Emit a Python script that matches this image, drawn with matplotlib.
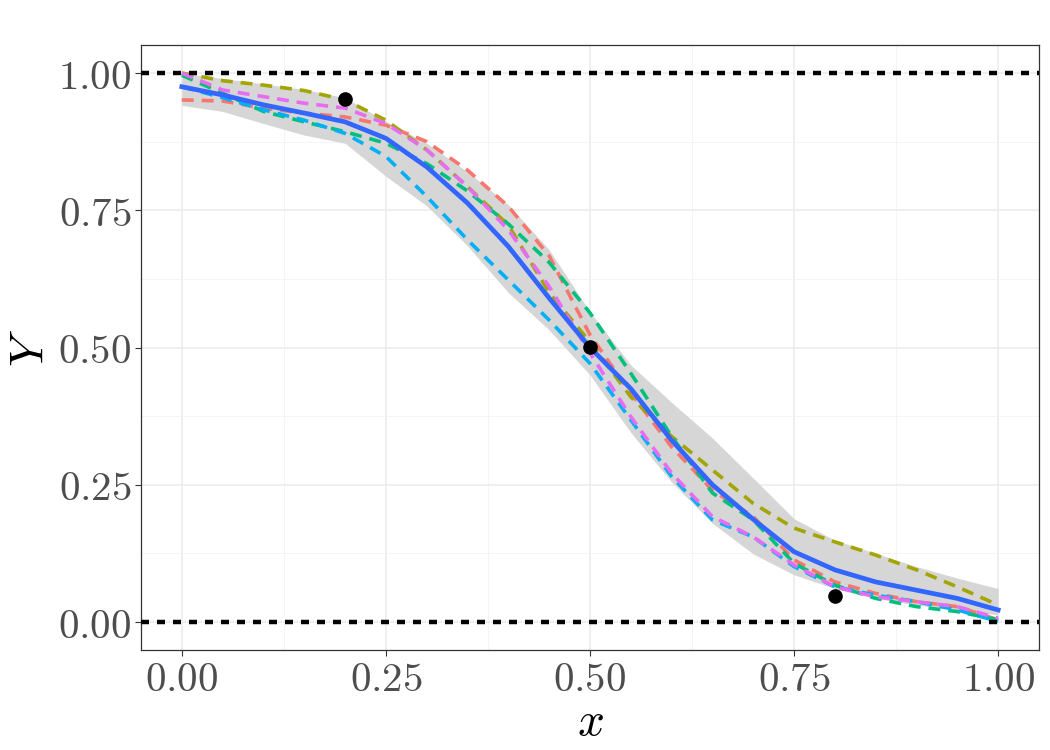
import numpy as np
import matplotlib
matplotlib.use("Agg")
import matplotlib.pyplot as plt

plt.rcParams['mathtext.fontset'] = 'cm'
plt.rcParams['font.family'] = ['DejaVu Sans']

# x grid the curves were read at
x = [0.00, 0.05, 0.10, 0.15, 0.20, 0.25, 0.30, 0.35, 0.40, 0.45, 0.50,
     0.55, 0.60, 0.65, 0.70, 0.75, 0.80, 0.85, 0.90, 0.95, 1.00]

mean_curve = [0.975, 0.960, 0.942, 0.927, 0.911, 0.881, 0.829, 0.763, 0.684, 0.590, 0.500,
              0.425, 0.331, 0.250, 0.187, 0.128, 0.095, 0.073, 0.058, 0.043, 0.022]
band_upper = [1.000, 0.990, 0.980, 0.970, 0.955, 0.912, 0.872, 0.820, 0.760, 0.678, 0.565,
              0.468, 0.400, 0.335, 0.262, 0.188, 0.149, 0.125, 0.101, 0.080, 0.061]
band_lower = [0.941, 0.930, 0.908, 0.887, 0.872, 0.812, 0.758, 0.685, 0.600, 0.532, 0.450,
              0.345, 0.255, 0.180, 0.124, 0.086, 0.061, 0.043, 0.031, 0.022, 0.013]

samples = {
    '#F8766D': [0.951, 0.949, 0.936, 0.927, 0.920, 0.905, 0.875, 0.823, 0.757, 0.667, 0.523,
                0.417, 0.319, 0.240, 0.192, 0.113, 0.073, 0.052, 0.037, 0.028, 0.004],
    '#A3A500': [1.000, 0.986, 0.978, 0.968, 0.951, 0.914, 0.860, 0.793, 0.723, 0.600, 0.510,
                0.410, 0.338, 0.277, 0.216, 0.171, 0.146, 0.122, 0.095, 0.064, 0.031],
    '#00BF7D': [0.996, 0.963, 0.930, 0.911, 0.893, 0.872, 0.835, 0.785, 0.725, 0.655, 0.563,
                0.453, 0.338, 0.235, 0.186, 0.107, 0.067, 0.043, 0.028, 0.019, 0.004],
    '#00B0F6': [0.975, 0.955, 0.933, 0.914, 0.890, 0.848, 0.775, 0.696, 0.623, 0.550, 0.471,
                0.368, 0.265, 0.186, 0.155, 0.101, 0.064, 0.049, 0.037, 0.022, 0.001],
    '#E76BF3': [1.000, 0.969, 0.957, 0.945, 0.936, 0.908, 0.860, 0.793, 0.714, 0.611, 0.490,
                0.374, 0.271, 0.192, 0.155, 0.104, 0.064, 0.046, 0.037, 0.028, 0.007],
}

obs_x = [0.2, 0.5, 0.8]
obs_y = [0.953, 0.501, 0.047]

ticks = [0.0, 0.25, 0.5, 0.75, 1.0]
minor = [0.125, 0.375, 0.625, 0.875]

fig = plt.figure(figsize=(10.5, 7.5), dpi=100)
ax = fig.add_axes([0.1343, 0.1333, 0.8552, 0.8067])

ax.fill_between(x, band_lower, band_upper, color='#D6D6D6', lw=0, zorder=2)
for col, ys in samples.items():
    ax.plot(x, ys, color=col, lw=2.6, dashes=(3.3, 2.2), zorder=3)
ax.plot(x, mean_curve, color='#3366FF', lw=3.4, zorder=4)

for yh in [0.0, 1.0]:
    ax.axhline(yh, color='black', lw=3.2, dashes=(1.8, 1.8), zorder=5)

ax.plot(obs_x, obs_y, 'o', color='black', ms=9.5, zorder=6)

ax.set_xlim(-0.05, 1.05)
ax.set_ylim(-0.051, 1.051)
ax.set_xticks(ticks)
ax.set_yticks(ticks)
ax.set_xticks(minor, minor=True)
ax.set_yticks(minor, minor=True)
ax.set_xticklabels([f'${t:.2f}$' for t in ticks])
ax.set_yticklabels([f'${t:.2f}$' for t in ticks])
ax.grid(True, which='major', color='#EBEBEB', lw=1.1, zorder=0)
ax.grid(True, which='minor', color='#F3F3F3', lw=0.6, zorder=0)
ax.set_axisbelow(True)

ax.tick_params(axis='both', which='major', labelsize=29.5, labelcolor='#4D4D4D',
               color='#333333', length=4, width=0.8, pad=3)
ax.tick_params(axis='both', which='minor', length=0)
for s in ax.spines.values():
    s.set_color('#333333')
    s.set_linewidth(0.9)

ax.set_xlabel('$x$', fontsize=34, labelpad=0)
ax.set_ylabel('$Y$', fontsize=34, labelpad=4)

fig.savefig('out.png', dpi=100)
